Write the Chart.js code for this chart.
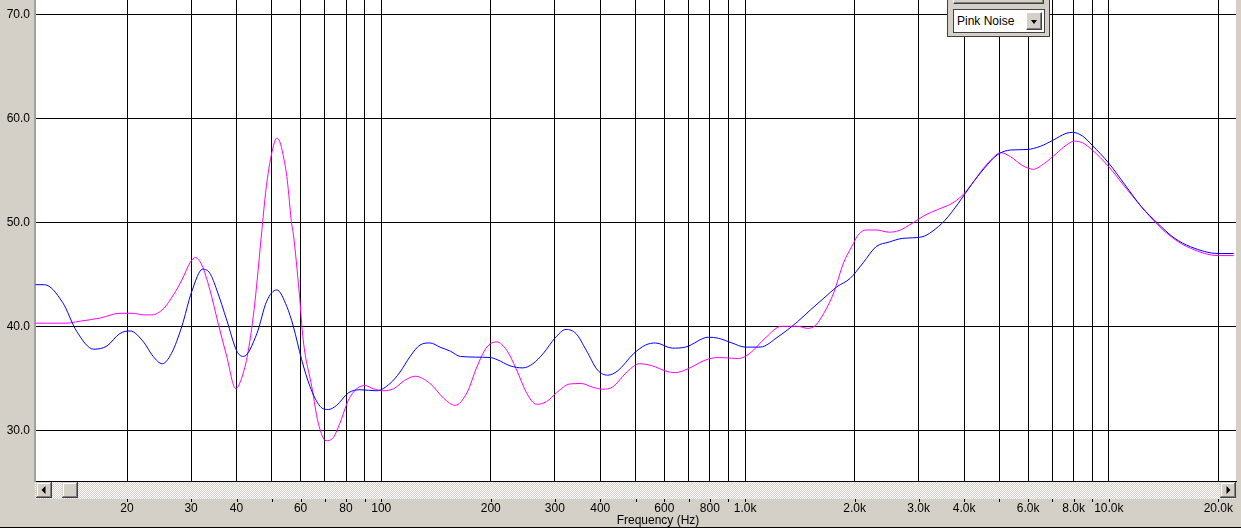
<!DOCTYPE html>
<html>
<head>
<meta charset="utf-8">
<script src="https://cdn.jsdelivr.net/npm/chart.js@4.4.0/dist/chart.umd.min.js"></script>
<style>
  html, body { margin: 0; padding: 0; background: #d4d0c8; }
  #wrap { position: relative; width: 1241px; height: 528px; overflow: hidden;
          font-family: 'Liberation Sans', Arial, sans-serif; font-size: 12px; color: #000; }
  #chart { position: absolute; left: 0; top: 0; }
  .xtitle { position: absolute; left: 558px; width: 200px; top: 513px; line-height: 14px; text-align: center; }
  .panel { position: absolute; left: 947px; top: 0; width: 103px; height: 37px; box-sizing: border-box;
           background: #d4d0c8; border: 1px solid #404040; border-top: none; }
  .raised { background: #d4d0c8; box-sizing: border-box; border: 1px solid;
            border-color: #fff #404040 #404040 #fff; box-shadow: inset -1px -1px #808080; }
  .topbtn { position: absolute; left: 5px; top: -20px; width: 91px; height: 24px; }
  .combo { position: absolute; left: 5px; top: 9px; width: 92px; height: 24px; box-sizing: border-box;
           background: #fff; border: 1px solid #404040; }
  .combo span { position: absolute; left: 3px; top: 4px; line-height: 14px; }
  .arrow { position: absolute; left: 72px; top: 2px; width: 16px; height: 18px; }
  .arrow i { position: absolute; left: 4px; top: 7px; width: 0; height: 0;
             border-left: 3px solid transparent; border-right: 3px solid transparent; border-top: 4px solid #000; }
</style>
</head>
<body>
<div id="wrap">
  <canvas id="chart" width="1241" height="528"></canvas>
  <div class="xtitle">Frequency (Hz)</div>
  <div class="panel">
    <div class="raised topbtn"></div>
    <div class="combo"><span>Pink Noise</span><div class="raised arrow"><i></i></div></div>
  </div>
</div>
<script>
// axis ticks
const gridFreqs = [20, 30, 40, 50, 60, 70, 80, 90, 100, 200, 300, 400, 500, 600, 700, 800, 900,
  1000, 2000, 3000, 4000, 5000, 6000, 7000, 8000, 9000, 10000, 20000];
const gridLabels = ['20', '30', '40', '', '60', '', '80', '', '100', '200', '300', '400', '', '600', '', '800', '',
  '1.0k', '2.0k', '3.0k', '4.0k', '', '6.0k', '', '8.0k', '', '10.0k', '20.0k'];
const dbTicks = [30, 40, 50, 60, 70];

// blue curve
const blueFreq = [11.2, 11.85, 13.3, 14.55, 16.2, 17.6, 19.1, 20.4, 22.2, 23.6, 25.0, 26.5, 28.3, 30.1,
  32.3, 33.8, 35.3, 37.6, 40.1, 41.8, 45.5, 48.4, 51.6, 55.0, 57.3, 60.4, 63.7, 67.9, 71.5, 75.4, 81.2,
  87.4, 97.1, 105.7, 112.6, 120, 127.8, 136.2, 145, 155, 165, 199, 208, 226, 245, 261, 279, 300, 322,
  343, 366, 393, 419, 446, 495, 533, 568, 631, 686, 794, 845, 920, 1001, 1100, 1233, 1395, 1515, 1646,
  1789, 1944, 2111, 2291, 2489, 2705, 3066, 3263, 3546, 3853, 4187, 4550, 4944, 5370, 5960, 6475, 7030,
  7630, 7950, 8464, 9007, 9990, 11080, 12290, 13630, 15120, 16770, 20000, 22050];
const blueDb = [44.0, 44.0, 42.3, 39.5, 37.8, 38.1, 39.3, 39.55, 38.5, 37.1, 36.4, 37.4, 40.0, 43.3,
  45.5, 45.1, 43.5, 40.6, 37.6, 37.1, 39.3, 42.4, 43.5, 41.9, 40.0, 36.8, 34.2, 32.3, 32.0, 32.4, 33.6,
  33.9, 33.8, 34.5, 35.6, 37.1, 38.2, 38.4, 38.0, 37.6, 37.1, 37.0, 36.8, 36.2, 36.0, 36.4, 37.4, 38.85, 39.7,
  39.3, 37.7, 35.8, 35.3, 35.7, 37.4, 38.2, 38.4, 37.9, 38.0, 38.95, 38.85, 38.4, 38.0, 38.0, 39.0, 40.45, 41.6, 42.7,
  43.8, 44.6, 46.1, 47.65, 48.1, 48.45, 48.6, 49.1, 50.2, 51.8, 53.6, 55.2, 56.5, 56.95, 57.0, 57.3, 57.9,
  58.55, 58.65, 58.3, 57.4, 55.7, 53.6, 51.5, 49.9, 48.5, 47.65, 47.0, 47.0];

// magenta curve
const pinkFreq = [11.2, 13.6, 14.9, 16.9, 19.1, 20.8, 22.2, 23.4, 25.2, 26.8, 28.3, 29.9, 30.8, 32.1,
  33.8, 35.6, 37.6, 39.8, 41.1, 42.8, 44.7, 47.1, 48.1, 49.1, 50.1, 51.1, 51.6, 52.6, 53.7, 55.0, 55.7,
  56.6, 57.3, 59.5, 61.0, 64.4, 67.1, 70.5, 73.4, 77.0, 81.2, 85.6, 90.3, 95.0, 101.3, 108.1, 116, 124,
  136.2, 148.3, 159.6, 171.9, 183.2, 195, 207.7, 221.2, 235.6, 250.8, 267.1, 284.5, 302.9, 329.4, 354.5,
  380.9, 405.5, 431.8, 470.4, 511.9, 556.3, 604.4, 643.8, 700.4, 777.4, 845.5, 959, 1031, 1135, 1259,
  1395, 1485, 1563, 1646, 1752, 1865, 1964, 2048, 2154, 2291, 2489, 2650, 2880, 3130, 3402, 3697, 3934,
  4187, 4456, 4741, 5046, 5370, 5767, 6200, 6667, 7168, 7630, 8037, 8464, 9007, 9990, 11080, 12290,
  13630, 15120, 16770, 20000, 22050];
const pinkDb = [40.3, 40.3, 40.5, 40.8, 41.25, 41.25, 41.1, 41.1, 41.7, 43.0, 44.45, 46.2, 46.6, 45.9,
  43.5, 40.3, 37.1, 34.0, 34.8, 37.1, 41.6, 49.7, 52.9, 55.2, 56.8, 57.9, 58.1, 57.75, 56.5, 54.4, 52.6,
  50.06, 48.9, 43.2, 38.7, 34.2, 30.7, 29.0, 29.2, 30.7, 32.9, 34.0, 34.3, 34.0, 33.8, 34.0, 34.8, 35.2,
  34.5, 33.1, 32.4, 33.6, 36.1, 38.0, 38.5, 37.7, 35.8, 33.6, 32.5, 32.75, 33.6, 34.45, 34.5,
  34.15, 33.95, 34.15, 35.5, 36.4, 36.2, 35.7, 35.55, 35.95, 36.75, 37.0, 36.9, 37.4, 38.85, 40.0,
  40.0, 39.8, 40.1, 41.25, 43.2, 46.1, 47.65, 48.8, 49.26, 49.26, 49.05, 49.2, 49.9, 50.7, 51.25, 51.8, 52.5,
  53.6, 54.9, 56.0, 56.7, 56.3, 55.5, 55.1, 55.7, 56.6, 57.4, 57.8, 57.65, 56.95, 55.35, 53.4, 51.5,
  49.75, 48.4, 47.5, 46.8, 46.8];

const pts = (fs, vs) => fs.map((f, i) => ({ x: f, y: vs[i] }));

function hatch(ctx) {
  const c = document.createElement('canvas');
  c.width = c.height = 2;
  const g = c.getContext('2d');
  g.fillStyle = '#d4d0c8'; g.fillRect(0, 0, 2, 2);
  g.fillStyle = '#fff'; g.fillRect(0, 0, 1, 1); g.fillRect(1, 1, 1, 1);
  return ctx.createPattern(c, 'repeat');
}

function bevel(ctx, x, y, w, h, dir) {
  ctx.fillStyle = '#d4d0c8'; ctx.fillRect(x, y, w, h);
  ctx.fillStyle = '#fff'; ctx.fillRect(x + 1, y + 1, w - 2, 1); ctx.fillRect(x + 1, y + 1, 1, h - 2);
  ctx.fillStyle = '#808080'; ctx.fillRect(x + 1, y + h - 2, w - 2, 1); ctx.fillRect(x + w - 2, y + 1, 1, h - 2);
  ctx.fillStyle = '#404040'; ctx.fillRect(x, y + h - 1, w, 1); ctx.fillRect(x + w - 1, y, 1, h);
  if (!dir) return;
  const cx = x + w / 2, cy = y + h / 2;
  ctx.fillStyle = '#000';
  ctx.beginPath();
  if (dir === 'left') { ctx.moveTo(cx - 2.5, cy); ctx.lineTo(cx + 1.5, cy - 4); ctx.lineTo(cx + 1.5, cy + 4); }
  else { ctx.moveTo(cx + 2.5, cy); ctx.lineTo(cx - 1.5, cy - 4); ctx.lineTo(cx - 1.5, cy + 4); }
  ctx.closePath();
  ctx.fill();
}

// white plot background
const plotBg = {
  id: 'plotBg',
  beforeDraw(chart) {
    const { ctx, chartArea: a } = chart;
    ctx.save();
    ctx.fillStyle = '#fff';
    ctx.fillRect(a.left, a.top, a.right - a.left, a.bottom - a.top);
    ctx.restore();
  }
};

// scrollbar, small ticks under it, bottom edge
const chrome = {
  id: 'chrome',
  afterDraw(chart) {
    const { ctx, chartArea: a } = chart;
    const x = chart.scales.x;
    const top = a.bottom + 1, h = 17;
    ctx.save();
    ctx.fillStyle = hatch(ctx);
    ctx.fillRect(a.left, top, a.right - a.left, h);
    bevel(ctx, a.left + 1, top, 16, 16, 'left');
    bevel(ctx, a.left + 27, top, 16, 16, null);
    bevel(ctx, a.right - 16, top, 16, 16, 'right');
    ctx.fillStyle = '#000';
    gridFreqs.forEach(f => {
      ctx.fillRect(Math.round(x.getPixelForValue(f)), top + h, 1, 3);
    });
    ctx.fillRect(0, chart.height - 1, chart.width, 1);
    ctx.restore();
  }
};

Chart.defaults.font.family = "'Liberation Sans', Arial, sans-serif";
Chart.defaults.font.size = 12;
Chart.defaults.color = '#000';

new Chart(document.getElementById('chart'), {
  type: 'line',
  data: {
    datasets: [
      { label: 'blue', data: pts(blueFreq, blueDb), borderColor: '#0000ff' },
      { label: 'pink', data: pts(pinkFreq, pinkDb), borderColor: '#ff00ff' }
    ]
  },
  options: {
    responsive: false,
    animation: false,
    layout: { padding: { left: 0, right: 5, top: 0, bottom: 0 } },
    elements: {
      line: { borderWidth: 1, fill: false, cubicInterpolationMode: 'monotone' },
      point: { radius: 0 }
    },
    scales: {
      x: {
        type: 'logarithmic',
        min: 11.17, max: 22370,
        afterBuildTicks: s => { s.ticks = gridFreqs.map(v => ({ value: v })); },
        afterFit: s => { s.height = 47; s.paddingLeft = 0; s.paddingRight = 0; },
        ticks: { autoSkip: false, maxRotation: 0, padding: 20, callback: (v, i) => gridLabels[i] },
        grid: { color: '#000', lineWidth: 1, drawTicks: false },
        border: { color: '#000', width: 1 }
      },
      y: {
        min: 25.125, max: 71.375,
        afterBuildTicks: s => { s.ticks = dbTicks.map(v => ({ value: v })); },
        afterFit: s => { s.width = 35; s.paddingTop = 0; s.paddingBottom = 0; },
        ticks: { padding: 5, callback: v => v.toFixed(1) },
        grid: { color: '#000', lineWidth: 1, drawTicks: false },
        border: { color: '#a0a0a0', width: 2 }
      }
    },
    plugins: { legend: { display: false }, tooltip: { enabled: false } }
  },
  plugins: [plotBg, chrome]
});
</script>
</body>
</html>
